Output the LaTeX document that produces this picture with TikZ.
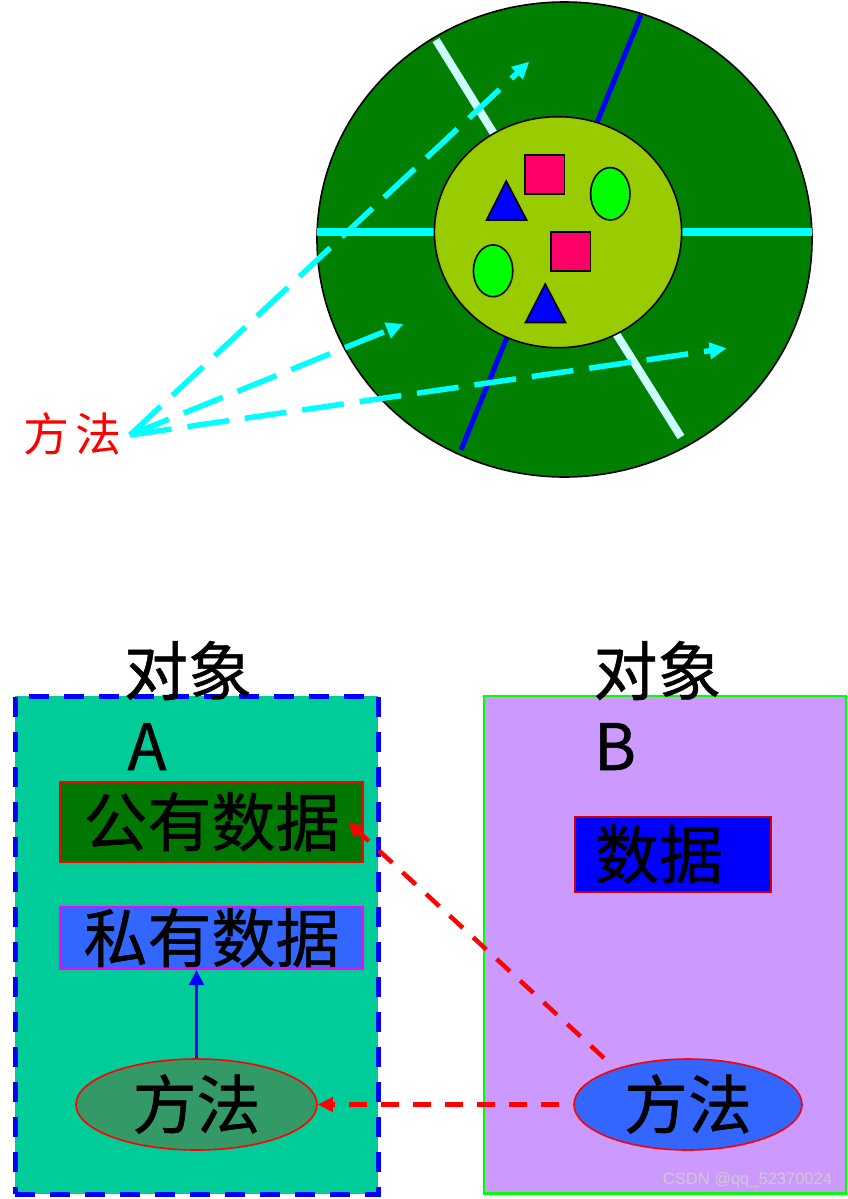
\documentclass[tikz,border=0pt]{standalone}
\usepackage{fontspec}
\newfontfamily\cjk{Noto Sans CJK SC}[FakeBold=0.8]
\newfontfamily\cjkthin{Noto Sans CJK SC}
\newfontfamily\wmfont{Liberation Sans}
\usetikzlibrary{arrows.meta,shapes.geometric}
\definecolor{bigg}{HTML}{007F00}
\definecolor{innerg}{HTML}{99CC00}
\definecolor{sqc}{HTML}{FF0066}
\definecolor{ovc}{HTML}{00FF00}
\definecolor{tric}{HTML}{0000FF}
\definecolor{cyanc}{HTML}{00FFFF}
\definecolor{lcyan}{HTML}{CCFFFF}
\definecolor{bluec}{HTML}{0000FF}
\definecolor{boxAc}{HTML}{00CC99}
\definecolor{pubc}{HTML}{007700}
\definecolor{privc}{HTML}{3366FF}
\definecolor{magc}{HTML}{FF00FF}
\definecolor{mAc}{HTML}{339966}
\definecolor{boxBc}{HTML}{CC99FF}
\definecolor{greenb}{HTML}{00FF00}
\definecolor{datac}{HTML}{0000FF}
\definecolor{darkred}{HTML}{CC0000}
\definecolor{redc}{HTML}{FF0000}
\begin{document}
\begin{tikzpicture}[x=1pt,y=-1pt,
  big/.style={font=\cjk\fontsize{64}{64}\selectfont, text=black, text height=52pt, text depth=4pt, inner sep=0pt},
  outline/.style={draw=black, line width=1.6pt},
  cyanarrow/.style={draw=cyanc, line width=5.5pt, dash pattern=on 42pt off 16pt, -{Triangle[length=17pt,width=16pt]}},
  redarrow/.style={draw=redc, line width=4.5pt, dash pattern=on 18pt off 14pt, -{Triangle[length=15pt,width=14pt]}},
  bluearrow/.style={draw=bluec, line width=2.4pt, -{Triangle[length=15pt,width=15pt]}},
  ebox/.style={shape=ellipse, line width=1.6pt, draw=redc, inner sep=0pt, minimum height=91pt},
]
\useasboundingbox (0,0) rectangle (848,1199);
% ---------- top: object diagram ----------
\filldraw[fill=bigg, outline] (564.5,239.5) ellipse [x radius=247.5pt, y radius=237.5pt];
\draw[cyanc, line width=8pt] (317,232.3) -- (440,232.3);
\draw[cyanc, line width=8pt] (675,232.3) -- (812,232.3);
\draw[lcyan, line width=8pt] (436,40) -- (512,163);
\draw[lcyan, line width=8pt] (681,437) -- (600,308);
\draw[bluec, line width=5pt] (641,15) -- (589,142);
\draw[bluec, line width=5pt] (461,450) -- (514,320);
\filldraw[fill=innerg, outline] (558,232.2) ellipse [x radius=123.6pt, y radius=115.5pt];
\filldraw[fill=sqc, outline] (525,155) rectangle (564.5,194);
\filldraw[fill=sqc, outline] (551,232) rectangle (590.5,271);
\filldraw[fill=tric, outline] (506.2,181) -- (526.6,220) -- (486.6,220) -- cycle;
\filldraw[fill=tric, outline] (545.2,284) -- (565.5,322.5) -- (525.5,322.5) -- cycle;
\filldraw[fill=ovc, outline] (610.3,193.8) ellipse [x radius=19.7pt, y radius=26.2pt];
\filldraw[fill=ovc, outline] (493.1,270.8) ellipse [x radius=19.7pt, y radius=25.9pt];
\node[font=\cjkthin\fontsize{46}{46}\selectfont, text=redc, text height=38pt, text depth=4pt, inner sep=0pt] (lab) at (72.5,434) {方\hspace{6pt}法};
\coordinate (src) at (130,435);
\coordinate (t1) at (529.3,61.7);
\coordinate (t2) at (403.4,324);
\coordinate (t3) at (726.6,348.3);
\draw[cyanarrow] (src) -- (t1);
\draw[cyanarrow] (src) -- (t2);
\draw[cyanarrow] (src) -- (t3);
% ---------- bottom: two objects ----------
\node[fill=boxAc, draw=bluec, line width=5pt, dash pattern=on 20pt off 15pt, minimum width=363pt, minimum height=498pt, inner sep=0pt] (boxA) at (196.5,945) {};
\node[fill=boxBc, draw=greenb, line width=2.2pt, minimum width=362pt, minimum height=497.5pt, inner sep=0pt] (boxB) at (665,944.75) {};
\node[big, fill=pubc, draw=redc, line width=2.2pt, minimum width=303pt, minimum height=80pt] (pub) at (211.5,822) {公有数据};
\node[big, fill=privc, draw=magc, line width=2.2pt, minimum width=303pt, minimum height=62pt] (priv) at (211.5,938) {私有数据};
\node[big, fill=datac, draw=darkred, line width=2.2pt, text width=156pt, align=left, inner xsep=20pt, minimum height=75pt] (data) at (673,854.5) {数据};
\node[big, ebox, fill=mAc, minimum width=241pt] (mA) at (196.5,1104.5) {方法};
\node[big, ebox, fill=privc, minimum width=228pt] (mB) at (688,1104.5) {方法};
\node[big] (objA) at (188,671) {对象};
\node[big] (objB) at (657.5,671) {对象};
\node[big] (nameA) at (147,746) {A};
\node[big] (nameB) at (615,746) {B};
\draw[bluearrow] (mA.north) -- (mA.north |- priv.south);
\coordinate (s1) at (604,1058);
\coordinate (pubtip) at (348,822);
\draw[redarrow] (s1) -- (pubtip);
\draw[redarrow, shorten <=14pt] (mB.west) -- (mA.east);
\node[font=\wmfont\fontsize{16.5}{16.5}\selectfont, text=gray!40, inner sep=0pt] (wm) at (747.5,1180) {CSDN @qq\_52370024};
\end{tikzpicture}
\end{document}
